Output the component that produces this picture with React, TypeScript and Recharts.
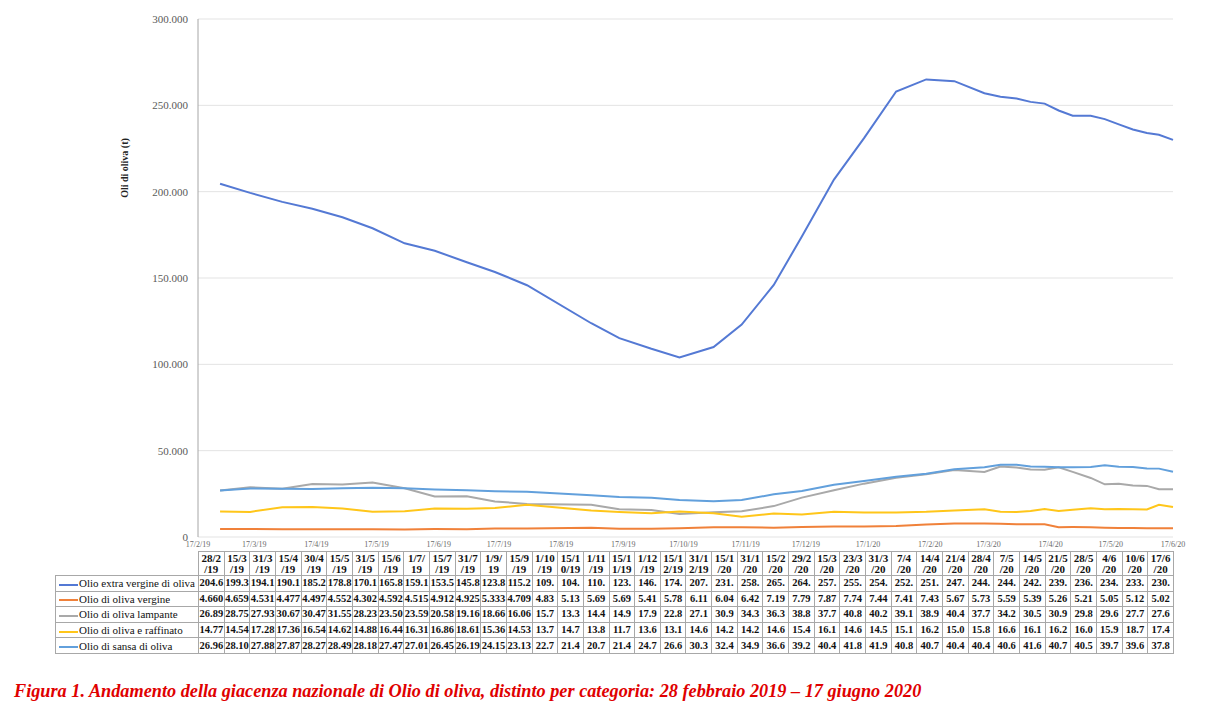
import React from "react";
import { LineChart, Line, XAxis, YAxis, CartesianGrid } from "recharts";

const dateLabels = [
  "28/2/19", "15/3/19", "31/3/19", "15/4/19", "30/4/19", "15/5/19", "31/5/19", "15/6/19",
  "1/7/19", "15/7/19", "31/7/19", "1/9/19", "15/9/19", "1/10/19", "15/10/19", "1/11/19",
  "15/11/19", "1/12/19", "15/12/19", "31/12/19", "15/1/20", "31/1/20", "15/2/20", "29/2/20",
  "15/3/20", "23/3/20", "31/3/20", "7/4/20", "14/4/20", "21/4/20", "28/4/20", "7/5/20",
  "14/5/20", "21/5/20", "28/5/20", "4/6/20", "10/6/20", "17/6/20",
];

const axisTickLabels = [
  "17/2/19", "17/3/19", "17/4/19", "17/5/19", "17/6/19", "17/7/19", "17/8/19", "17/9/19",
  "17/10/19", "17/11/19", "17/12/19", "17/1/20", "17/2/20", "17/3/20", "17/4/20", "17/5/20", "17/6/20",
];

const yTicks = [0, 50000, 100000, 150000, 200000, 250000, 300000];

const extraVergine = [
  204600, 199300, 194100, 190100, 185200, 178800, 170100, 165800, 159100, 153500, 145800, 123800, 115200,
  109000, 104000, 110000, 123000, 146000, 174000, 207000, 231000, 258000, 265000, 264000, 257000, 255000,
  254000, 252000, 251000, 247000, 244000, 244000, 242000, 239000, 236000, 234000, 233000, 230000,
];
const vergine = [
  4660, 4659, 4531, 4477, 4497, 4552, 4302, 4592, 4515, 4912, 4925, 5333, 4709,
  4830, 5130, 5690, 5690, 5410, 5780, 6110, 6040, 6420, 7190, 7790, 7870, 7740,
  7440, 7410, 7430, 5670, 5730, 5590, 5390, 5260, 5210, 5050, 5120, 5020,
];
const lampante = [
  26890, 28750, 27930, 30670, 30470, 31550, 28230, 23500, 23590, 20580, 19160, 18660, 16060,
  15700, 13300, 14400, 14900, 17900, 22800, 27100, 30900, 34300, 36300, 38800, 37700, 40800,
  40200, 39100, 38900, 40400, 37700, 34200, 30500, 30900, 29800, 29600, 27700, 27600,
];
const raffinato = [
  14770, 14540, 17280, 17360, 16540, 14620, 14880, 16440, 16310, 16860, 18610, 15360, 14530,
  13700, 14700, 13800, 11700, 13600, 13100, 14600, 14200, 14200, 14600, 15400, 16100, 14600,
  14500, 15100, 16200, 15000, 15800, 16600, 16100, 16200, 16000, 15900, 18700, 17400,
];
const sansa = [
  26960, 28100, 27880, 27870, 28270, 28490, 28180, 27470, 27010, 26450, 26190, 24150, 23130,
  22700, 21400, 20700, 21400, 24700, 26600, 30300, 32400, 34900, 36600, 39200, 40400, 41800,
  41900, 40800, 40700, 40400, 40400, 40600, 41600, 40700, 40500, 39700, 39600, 37800,
];

const seriesNames = [
  "Olio extra vergine di oliva",
  "Olio di oliva vergine",
  "Olio di oliva lampante",
  "Olio di oliva e raffinato",
  "Olio di sansa di oliva",
];
const seriesValues = [extraVergine, vergine, lampante, raffinato, sansa];
const seriesColors = ["#5479d4", "#f0813a", "#a9a9a9", "#ffc61a", "#62a0dc"];

const yLabel = "Oli di oliva (t)";
const caption =
  "Figura 1. Andamento della giacenza nazionale di Olio di oliva, distinto per categoria: 28 febbraio 2019 \u2013 17 giugno 2020";

const parseDate = (s: string) => {
  const [d, m, y] = s.split("/").map(Number);
  return Date.UTC(2000 + y, m - 1, d);
};

const data = dateLabels.map((lbl, i) => {
  const row: any = { t: parseDate(lbl) };
  seriesValues.forEach((arr, k) => {
    row["s" + k] = arr[i];
  });
  return row;
});

const axisTicks = axisTickLabels.map(parseDate);

const fmtIt = (v: number) => Math.round(v).toString().replace(/\B(?=(\d{3})+(?!\d))/g, ".");

const cellText = (v: number, i: number) => fmtIt(v).slice(0, i < 13 ? 5 : 4);

const splitHeader = (lbl: string, i: number): [string, string] => {
  if (i < 13) return [lbl.slice(0, 4), lbl.slice(4)];
  const idx = lbl.lastIndexOf("/");
  if (idx <= 4) return [lbl.slice(0, idx), lbl.slice(idx)];
  return [lbl.slice(0, 4), lbl.slice(4)];
};

const SERIF = "'Liberation Serif', 'Times New Roman', serif";
const PLOT_LEFT = 198;
const PLOT_RIGHT = 1173;
const LABEL_COL_LEFT = 55;

const XTick = (props: any) => {
  const { x, y, payload } = props;
  return (
    <text x={x} y={y} dy="0.71em" textAnchor="middle" fontSize={8} fill="#6b6b6b" fontFamily={SERIF}>
      {axisTickLabels[axisTicks.indexOf(payload.value)]}
    </text>
  );
};

export default function App() {
  const colW = (PLOT_RIGHT - PLOT_LEFT) / dateLabels.length;
  const border = "1px solid #a8a8a8";
  return (
    <div style={{ position: "absolute", left: 0, top: 0, width: 1228, height: 713, background: "#fff", overflow: "hidden" }}>
      <div style={{ position: "absolute", left: 0, top: 0 }}>
        <LineChart
          width={1228}
          height={550}
          data={data}
          margin={{ top: 19, right: 1228 - PLOT_RIGHT, left: 0, bottom: 0 }}
        >
          <CartesianGrid horizontal vertical={false} stroke="#e3e3e3" strokeWidth={1} />
          <XAxis
            dataKey="t"
            type="number"
            scale="time"
            domain={[axisTicks[0], axisTicks[axisTicks.length - 1]]}
            ticks={axisTicks}
            interval={0}
            height={13}
            tickLine={false}
            axisLine={false}
            tickSize={0}
            tickMargin={4}
            tick={<XTick />}
          />
          <YAxis
            type="number"
            domain={[0, 300000]}
            ticks={yTicks}
            width={PLOT_LEFT}
            tickLine={false}
            tickSize={0}
            tickMargin={10}
            axisLine={{ stroke: "#a6a6a6", strokeWidth: 1 }}
            tickFormatter={(v: number) => fmtIt(v)}
            tick={{ fontSize: 11, fill: "#595959", fontFamily: SERIF }}
          />
          {seriesValues.map((_, k) => (
            <Line
              key={k}
              type="linear"
              dataKey={"s" + k}
              stroke={seriesColors[k]}
              strokeWidth={2}
              dot={false}
              isAnimationActive={false}
            />
          ))}
        </LineChart>
      </div>

      <svg style={{ position: "absolute", left: 0, top: 0 }} width={200} height={400}>
        <text
          x={0}
          y={0}
          transform="translate(128,168) rotate(-90)"
          textAnchor="middle"
          fontSize={10}
          fontWeight="bold"
          fontFamily={SERIF}
          fill="#222"
        >
          {yLabel}
        </text>
      </svg>

      <table
        style={{
          position: "absolute",
          left: LABEL_COL_LEFT,
          top: 551,
          borderCollapse: "collapse",
          tableLayout: "fixed",
          width: PLOT_RIGHT - LABEL_COL_LEFT,
          fontFamily: SERIF,
          color: "#111",
        }}
      >
        <colgroup>
          <col style={{ width: PLOT_LEFT - LABEL_COL_LEFT }} />
          {dateLabels.map((_, i) => (
            <col key={i} style={{ width: colW }} />
          ))}
        </colgroup>
        <tbody>
          <tr style={{ height: 24 }}>
            <td style={{ padding: 0 }} />
            {dateLabels.map((lbl, i) => {
              const [a, b] = splitHeader(lbl, i);
              return (
                <td
                  key={i}
                  style={{
                    border,
                    padding: 0,
                    textAlign: "center",
                    fontWeight: "bold",
                    fontSize: 11,
                    lineHeight: "11px",
                    whiteSpace: "nowrap",
                    overflow: "hidden",
                  }}
                >
                  {a}
                  <br />
                  {b}
                </td>
              );
            })}
          </tr>
          {seriesNames.map((name, k) => (
            <tr key={k} style={{ height: 15.6 }}>
              <td
                style={{
                  border,
                  padding: "0 0 0 3px",
                  fontSize: 11,
                  lineHeight: "14px",
                  whiteSpace: "nowrap",
                  overflow: "hidden",
                }}
              >
                <span
                  style={{
                    display: "inline-block",
                    width: 19,
                    height: 2,
                    background: seriesColors[k],
                    verticalAlign: "middle",
                    marginRight: 1,
                  }}
                />
                {name}
              </td>
              {seriesValues[k].map((v, i) => (
                <td
                  key={i}
                  style={{
                    border,
                    padding: 0,
                    textAlign: "center",
                    fontWeight: "bold",
                    fontSize: 10.5,
                    lineHeight: "14px",
                    whiteSpace: "nowrap",
                    overflow: "hidden",
                  }}
                >
                  {cellText(v, i)}
                </td>
              ))}
            </tr>
          ))}
        </tbody>
      </table>

      <div
        style={{
          position: "absolute",
          left: 14,
          top: 681,
          fontFamily: SERIF,
          fontWeight: "bold",
          fontStyle: "italic",
          fontSize: 18.25,
          color: "#e00000",
          whiteSpace: "nowrap",
        }}
      >
        {caption}
      </div>
    </div>
  );
}
